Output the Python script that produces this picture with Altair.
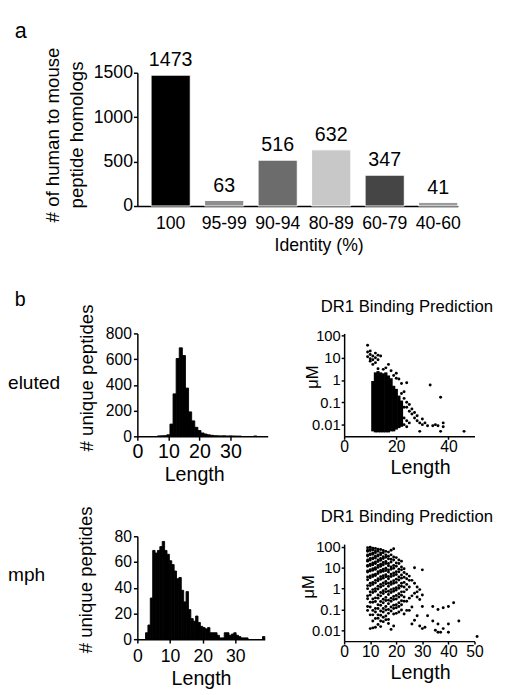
import altair as alt
import pandas as pd

FONT = "Liberation Sans"

# ---------------- panel a ----------------
identity_cats = ["100", "95-99", "90-94", "80-89", "60-79", "40-60"]
identity_counts = [1473, 63, 516, 632, 347, 41]
identity_colors = ["#000000", "#8e8e8e", "#6c6c6c", "#c8c8c8", "#454545", "#9c9c9c"]

# ---------------- panel b : eluted histogram (1-residue bins) ----------------
eluted_len = [7, 8, 9, 10, 11, 12, 13, 14, 15, 16, 17, 18, 19, 20, 21, 22, 23, 24,
              25, 26, 27, 28, 29, 30, 31, 32, 33, 38]
eluted_count = [3, 4, 5, 12, 95, 330, 605, 688, 628, 375, 190, 120, 70, 45, 26, 18, 12, 8,
                5, 4, 3, 4, 2, 3, 2, 1, 1, 2]

# ---------------- panel b : lymph histogram ----------------
LYMPH_BIN_W = 0.73
lymph_bin_left = [2.5, 3.23, 3.96, 4.69, 5.42, 6.15, 6.88, 7.61, 8.34, 9.07, 9.8, 10.53,
                  11.26, 11.99, 12.72, 13.45, 14.18, 14.91, 15.64, 16.37, 17.1, 17.83,
                  18.56, 19.29, 20.02, 20.75, 21.48, 22.21, 22.94, 23.67, 24.4, 25.13,
                  25.86, 26.59, 27.32, 28.05, 28.78, 29.51, 30.24, 30.97, 31.7, 32.43,
                  33.16, 38.3]
lymph_count = [5, 11, 32, 69, 67, 69, 72, 76, 69, 66, 61, 58, 53, 47, 48, 38, 29, 37, 23,
               16, 14, 18, 13, 10, 9, 8, 9, 5, 5, 5, 3, 1, 1, 5, 5, 3, 4, 5, 3, 2, 1, 1,
               1, 2]

# ---------------- DR1 binding, eluted (saturated columns + scattered points) ----------------
s1_col_len = [11, 12, 13, 14, 15, 16, 17, 18, 19, 20, 21, 22]
s1_col_lo = [0.005, 0.0045, 0.0045, 0.0045, 0.0045, 0.0045, 0.0045, 0.005, 0.005, 0.006,
             0.007, 0.008]
s1_col_hi = [0.9, 2.2, 2.5, 2.2, 2.0, 2.2, 1.6, 1.2, 0.55, 0.4, 0.2, 0.12]
s1_x = [9, 9, 9, 10, 10, 10, 11, 11, 12, 12, 13, 14, 12, 11, 10, 13,
        13, 15, 17, 18, 19, 20, 21, 22, 24, 20, 16,
        23, 23, 24, 24, 25, 25, 26, 26, 27, 27, 28, 28, 29, 29, 30, 30, 31, 32, 33,
        34, 35, 36, 37, 37, 38, 38, 46, 22, 23, 24, 23, 24, 25, 23, 22]
s1_y = [36, 18, 11, 14, 9, 7, 12, 8, 16, 10, 13, 12, 6, 5, 20, 8,
        3.2, 3, 5, 2.6, 1.6, 2, 1.1, 0.7, 0.75, 1.2, 3.5,
        0.3, 0.15, 0.1, 0.06, 0.08, 0.04, 0.05, 0.03, 0.035, 0.02, 0.015, 0.025, 0.012,
        0.005, 0.018, 0.01, 0.012, 0.009, 0.6,
        0.009, 0.01, 0.009, 0.17, 0.005, 0.012, 0.008, 0.005, 0.04, 0.02, 0.015, 0.01,
        0.008, 0.012, 0.06, 0.25]

# ---------------- DR1 binding, lymph (uM per peptide length) ----------------
s2_by_len = {
    9: [92, 70, 63, 41, 37, 24, 21, 13, 12, 7, 6.3, 3.6, 2.7, 1.4, 1.0, 0.45, 0.33, 0.14, 0.09],
    10: [98, 77, 68, 47, 43, 28, 24, 15, 13, 8.2, 7, 4.1, 3.3, 1.8, 1.4, 0.7, 0.5, 0.22, 0.13,
         0.055, 0.012],
    11: [88, 73, 52, 45, 30, 27, 17, 14, 9, 7.6, 4.6, 3.8, 2.0, 1.6, 0.9, 0.65, 0.32, 0.22,
         0.09, 0.055, 0.028, 0.013],
    12: [86, 64, 53, 36, 30, 19, 16, 10, 8.5, 5.0, 4.3, 2.5, 1.9, 1.0, 0.75, 0.36, 0.24, 0.11,
         0.075, 0.037, 0.014],
    13: [78, 63, 42, 37, 24, 20, 13, 10.5, 6.5, 5.3, 3.0, 2.4, 1.3, 0.95, 0.5, 0.35, 0.17,
         0.11, 0.055, 0.038, 0.019],
    14: [76, 52, 43, 28, 23, 15, 12, 7.5, 6.3, 3.7, 2.8, 1.6, 1.2, 0.65, 0.45, 0.24, 0.16,
         0.085, 0.053, 0.028, 0.015],
    15: [68, 53, 34, 28, 18, 14, 8.5, 6.9, 4.2, 3.2, 1.9, 1.4, 0.8, 0.58, 0.31, 0.21, 0.11,
         0.075, 0.042, 0.026],
    16: [62, 42, 32, 20, 16, 9.5, 7.5, 4.7, 3.7, 2.2, 1.7, 0.95, 0.7, 0.38, 0.27, 0.14, 0.095,
         0.048, 0.032],
    17: [57, 36, 27, 16, 12.5, 8, 6.3, 3.8, 3.0, 1.8, 1.3, 0.75, 0.52, 0.28, 0.19, 0.1, 0.065,
         0.033, 0.021],
    18: [70, 42, 26, 19, 11, 8.5, 5, 3.8, 2.1, 1.6, 0.9, 0.65, 0.35, 0.25, 0.13, 0.085, 0.011],
    19: [83, 33, 24, 13, 9.5, 5.6, 4.3, 2.4, 1.8, 1.0, 0.75, 0.42, 0.3, 0.16, 0.11, 0.06, 0.016],
    20: [31, 17, 12, 6.5, 4.8, 2.8, 2.0, 1.1, 0.85, 0.47, 0.32, 0.17, 0.12, 0.065],
    21: [24, 16, 8.5, 6.4, 3.6, 2.6, 1.4, 1.05, 0.57, 0.4, 0.21, 0.14, 0.075],
    22: [21, 11, 8, 4.5, 3.2, 1.8, 1.3, 0.7, 0.48, 0.26, 0.17, 0.095],
    23: [9, 6, 3.5, 2, 1.2, 0.7, 0.4, 0.25, 0.06],
    24: [5, 3, 1.6, 0.9, 0.25, 0.09],
    25: [4, 2.5, 1.2, 0.35, 0.09],
    26: [2.5, 0.45, 0.13, 0.02],
    27: [10, 1.8, 0.6, 0.03],
    28: [1.2, 0.7, 0.05, 0.4],
    29: [0.9, 0.3, 0.016],
    30: [8, 0.5, 0.14, 0.012],
    31: [0.014],
    32: [0.05],
    34: [0.14, 0.028],
    35: [0.01],
    36: [0.1, 0.02, 0.008],
    37: [0.008],
    38: [0.12, 0.012],
    40: [0.14, 0.02, 0.008],
    42: [0.21],
    44: [0.028],
    51: [0.005],
}

# ---------------- tables ----------------
dfA = pd.DataFrame({"identity": identity_cats, "count": identity_counts,
                    "color": identity_colors})
dfE = pd.DataFrame({"len": eluted_len, "count": eluted_count})
dfE["start"] = dfE["len"] - 0.5
dfE["end"] = dfE["len"] + 0.5
dfL = pd.DataFrame({"start": lymph_bin_left, "count": lymph_count})
dfL["end"] = dfL["start"] + LYMPH_BIN_W
dfS1c = pd.DataFrame({"len": s1_col_len, "lo": s1_col_lo, "hi": s1_col_hi})
dfS1p = pd.DataFrame({"len": s1_x, "um": s1_y})
rows = [(k, v) for k, vals in s2_by_len.items() for v in vals]
dfS2 = pd.DataFrame(rows, columns=["len", "um"])


def text_layer(txt, x, y, size, align="left", baseline="alphabetic"):
    return alt.Chart(pd.DataFrame({"t": [txt]})).mark_text(
        align=align, baseline=baseline, fontSize=size, font=FONT, color="black"
    ).encode(text="t:N", x=alt.value(x), y=alt.value(y))


COLW = 133

# ---------------- panel a chart ----------------
xA = alt.X("identity:N", sort=identity_cats,
           scale=alt.Scale(range=[0, 327], paddingInner=0.267, paddingOuter=0.128, align=1),
           axis=alt.Axis(title="Identity (%)", labelAngle=0, ticks=False, labelPadding=9,
                         labelFontSize=18, titleFontSize=18, titleX=185, titleY=31))
yA = alt.Y("count:Q", scale=alt.Scale(domain=[0, 1500], nice=False),
           axis=alt.Axis(values=[0, 500, 1000, 1500], format="d",
                         title=["# of human to mouse", "peptide homologs"],
                         labelFontSize=18, tickSize=4, labelPadding=1, titleFontSize=19,
                         titleLineHeight=24, titleX=-76, titleY=63))
barsA = alt.Chart(dfA).mark_bar(stroke="white", strokeWidth=1).encode(
    x=xA, y=yA, color=alt.Color("color:N", scale=None))
valsA = alt.Chart(dfA).mark_text(dy=-9, baseline="alphabetic", fontSize=20, font=FONT,
                                 color="black").encode(
    x=alt.X("identity:N", sort=identity_cats), y="count:Q", text="count:Q")
panelA = alt.layer(barsA, valsA, text_layer("a", -125, -35, 22)).properties(
    width=COLW, height=136)

placeholder = alt.Chart(pd.DataFrame({"v": [0]})).mark_point(opacity=0).encode(
    x=alt.X("v:Q", axis=None), y=alt.Y("v:Q", axis=None)).properties(width=COLW, height=20)

# ---------------- histograms ----------------
hist1 = alt.Chart(dfE).mark_rect(color="black", stroke="black", strokeWidth=0.9).encode(
    x=alt.X("start:Q", scale=alt.Scale(domain=[0, 42], nice=False),
            axis=alt.Axis(values=[0, 10, 20, 30], title="Length", labelFontSize=20,
                          titleFontSize=20, tickSize=4, labelPadding=2, labelFlush=False,
                          labelOverlap=False, titleX=58, titleY=29)),
    x2="end:Q",
    y=alt.Y("count:Q", scale=alt.Scale(domain=[0, 800], nice=False, range=[133, 28]),
            axis=alt.Axis(values=[0, 200, 400, 600, 800], title="# unique peptides",
                          labelFontSize=16, titleFontSize=19, tickSize=4, labelPadding=2,
                          titleX=-42, titleY=73)),
    y2=alt.datum(0))
hist1L = alt.layer(hist1, text_layer("b", -125, 0, 20),
                   text_layer("eluted", -132, 85, 19.5)).properties(width=COLW, height=133)

hist2 = alt.Chart(dfL).mark_rect(color="black", stroke="black", strokeWidth=0.9).encode(
    x=alt.X("start:Q", scale=alt.Scale(domain=[0, 39], nice=False),
            axis=alt.Axis(values=[0, 10, 20, 30], title="Length", labelFontSize=18,
                          titleFontSize=20, tickSize=4, labelPadding=5, labelFlush=False,
                          labelOverlap=False, titleX=65, titleY=30)),
    x2="end:Q",
    y=alt.Y("count:Q", scale=alt.Scale(domain=[0, 80], nice=False),
            axis=alt.Axis(values=[0, 20, 40, 60, 80], title="# unique peptides",
                          labelFontSize=16, titleFontSize=19, tickSize=4, labelPadding=2,
                          titleX=-43, titleY=44)),
    y2=alt.datum(0))
hist2L = alt.layer(hist2, text_layer("mph", -132, 46, 19.5)).properties(width=130, height=105)

# ---------------- scatter plots ----------------
def xs(title_x, title_y):
    return alt.X("len:Q", scale=alt.Scale(domain=[0, 50], nice=False),
                 axis=alt.Axis(values=[0, 10, 20, 30, 40, 50], title="Length", labelFontSize=16,
                               titleFontSize=20, tickSize=3, labelPadding=0, labelFlush=False,
                               labelOverlap=False, titleX=title_x, titleY=title_y))


def ys(field, dom, rng, title_x, title_y):
    return alt.Y(field, scale=alt.Scale(type="log", domain=dom, range=rng, nice=False),
                 axis=alt.Axis(values=[0.01, 0.1, 1, 10, 100], format="~g", title="μM",
                               labelFontSize=15, titleFontSize=17, tickSize=3, labelPadding=1,
                               labelOverlap=False, titleX=title_x, titleY=title_y))


s1cols = alt.Chart(dfS1c).mark_rule(color="black", strokeWidth=3.3).encode(
    x=xs(77.5, 22), y=ys("lo:Q", [0.003, 122], [133, 28], -23, 72), y2="hi:Q")
s1pts = alt.Chart(dfS1p).mark_circle(color="black", size=9, opacity=1).encode(
    x="len:Q", y="um:Q")
scat1 = alt.layer(s1cols, s1pts,
                  text_layer("DR1 Binding Prediction", 64, 6, 17, align="center")).properties(
    width=COLW, height=133)

s2pts = alt.Chart(dfS2).mark_circle(color="black", size=9, opacity=1).encode(
    x=xs(77.5, 22), y=ys("um:Q", [0.003, 138], [107, 8], -27, 51))
scat2 = alt.layer(s2pts,
                  text_layer("DR1 Binding Prediction", 64, -15, 17, align="center")).properties(
    width=COLW, height=107)

chart = alt.concat(panelA, placeholder, hist1L, scat1, hist2L, scat2, columns=2,
                   spacing={"row": 102, "column": 78}, bounds="flush").properties(
    padding={"left": 0, "top": 6, "right": 5, "bottom": 5}
).configure_view(stroke=None).configure_axis(
    domainColor="black", domainWidth=1.5, tickColor="black", tickWidth=1.5,
    labelColor="black", titleColor="black", labelFont=FONT, titleFont=FONT,
    grid=False, titleFontWeight="normal"
).configure_text(font=FONT)

chart.save("out.html", embed_options={"renderer": "svg", "actions": False})
